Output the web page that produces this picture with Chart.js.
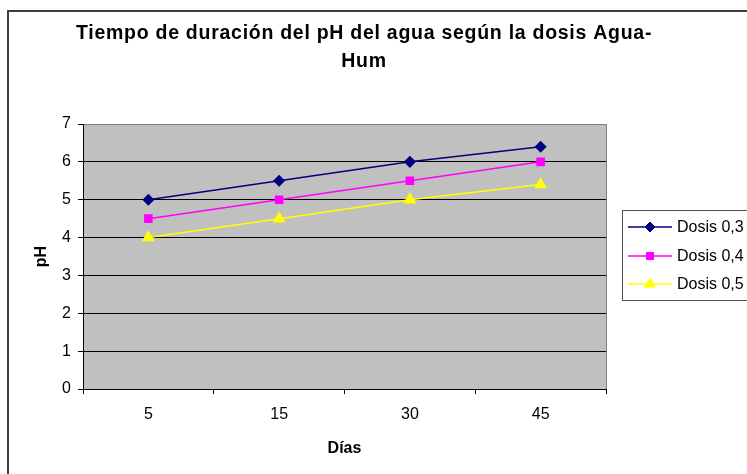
<!DOCTYPE html>
<html>
<head>
<meta charset="utf-8">
<script src="https://cdn.jsdelivr.net/npm/chart.js@4/dist/chart.umd.min.js"></script>
<style>
  html, body { margin: 0; padding: 0; background: #fff; }
  #wrap { width: 747px; height: 474px; }
</style>
</head>
<body>
<div id="wrap"><canvas id="chart" width="747" height="474"></canvas></div>
<script>
// Datos
const dias = ['5', '15', '30', '45'];
const dosis03 = [5, 5.5, 6, 6.4];
const dosis04 = [4.5, 5, 5.5, 6];
const dosis05 = [4, 4.5, 5, 5.4];
const titulo = ['Tiempo de duración del pH del agua según la dosis Agua-', 'Hum'];

const FONT = '"Liberation Sans", Arial, sans-serif';

// Fondo, marco exterior, área gris, título y leyenda a la derecha
const excelLook = {
  id: 'excelLook',
  beforeDraw(chart) {
    const { ctx, chartArea: a } = chart;
    ctx.save();
    ctx.fillStyle = '#fff';
    ctx.fillRect(0, 0, chart.width, chart.height);
    ctx.strokeStyle = '#404040';
    ctx.lineWidth = 2;
    ctx.strokeRect(8, 11, 800, 500);
    ctx.fillStyle = '#C0C0C0';
    ctx.fillRect(a.left, a.top, a.right - a.left, a.bottom - a.top);
    ctx.strokeStyle = '#808080';
    ctx.lineWidth = 1;
    ctx.strokeRect(a.left + 0.5, a.top + 0.5, a.right - a.left, a.bottom - a.top);
    ctx.restore();
  },
  afterDraw(chart) {
    const { ctx } = chart;
    ctx.save();
    ctx.fillStyle = '#000';
    ctx.textBaseline = 'middle';
    ctx.font = 'bold 19.5px ' + FONT;
    // el título original está algo espaciado: ancho ~576px
    const w0 = ctx.measureText(titulo[0]).width;
    const sp = Math.max(0, (576 - w0) / titulo[0].length);
    ctx.letterSpacing = sp.toFixed(2) + 'px';
    ctx.textAlign = 'left';
    ctx.fillText(titulo[0], 76, 34);
    const w1 = ctx.measureText(titulo[1]).width;
    ctx.fillText(titulo[1], 364 - w1 / 2, 62);
    ctx.letterSpacing = '0px';

    // leyenda
    ctx.strokeStyle = '#505050';
    ctx.lineWidth = 1;
    ctx.strokeRect(622.5, 210.5, 140, 90);
    ctx.font = '16px ' + FONT;
    ctx.textAlign = 'left';
    const rows = [227, 256, 284];
    chart.data.datasets.forEach((ds, i) => {
      const y = rows[i];
      ctx.strokeStyle = ds.borderColor;
      ctx.lineWidth = ds.borderWidth;
      ctx.beginPath();
      ctx.moveTo(628, y);
      ctx.lineTo(672, y);
      ctx.stroke();
      ctx.fillStyle = ds.pointBackgroundColor;
      ctx.lineWidth = 1;
      Chart.helpers.drawPoint(ctx, {
        pointStyle: ds.pointStyle, radius: ds.pointRadius, borderWidth: 1,
      }, 650, y);
      ctx.fillStyle = '#000';
      ctx.fillText(ds.label, 677, y + 1);
    });
    ctx.restore();
  },
};

new Chart(document.getElementById('chart'), {
  type: 'line',
  data: {
    labels: dias,
    datasets: [
      { label: 'Dosis 0,3', data: dosis03, borderColor: '#000080', backgroundColor: '#000080',
        pointBackgroundColor: '#000080', pointStyle: 'rectRot', pointRadius: 5, borderWidth: 1.5 },
      { label: 'Dosis 0,4', data: dosis04, borderColor: '#FF00FF', backgroundColor: '#FF00FF',
        pointBackgroundColor: '#FF00FF', pointStyle: 'rect', pointRadius: 5, borderWidth: 1.5 },
      { label: 'Dosis 0,5', data: dosis05, borderColor: '#FFFF00', backgroundColor: '#FFFF00',
        pointBackgroundColor: '#FFFF00', pointStyle: 'triangle', pointRadius: 6, borderWidth: 1.5 },
    ],
  },
  options: {
    responsive: false,
    animation: false,
    layout: { padding: { top: 124, right: 141, left: 0, bottom: 0 } },
    plugins: { legend: { display: false }, title: { display: false }, tooltip: { enabled: false } },
    elements: { line: { tension: 0 }, point: { borderWidth: 1 } },
    scales: {
      x: {
        offset: true,
        afterFit: (s) => { s.height = 85; },
        grid: { offset: true, drawOnChartArea: false, drawTicks: true, tickLength: 5, color: '#000' },
        border: { color: '#000', width: 1 },
        ticks: { color: '#000', font: { family: FONT, size: 16 }, padding: 11 },
        title: { display: true, text: 'Días', color: '#000', font: { family: FONT, size: 16, weight: 'bold' },
                 padding: { top: 0, bottom: 16 } },
      },
      y: {
        min: 0, max: 7,
        afterFit: (s) => { s.width = 83; },
        grid: { color: (c) => (c.tick && c.tick.value === 7 ? '#808080' : '#000'), tickLength: 5, tickColor: '#000' },
        border: { color: '#000', width: 1 },
        ticks: { stepSize: 1, color: '#000', font: { family: FONT, size: 16 }, padding: 7 },
        title: { display: true, text: 'pH', color: '#000', font: { family: FONT, size: 16, weight: 'bold' },
                 padding: { top: 32, bottom: 0 } },
      },
    },
  },
  plugins: [excelLook],
});
</script>
</body>
</html>
